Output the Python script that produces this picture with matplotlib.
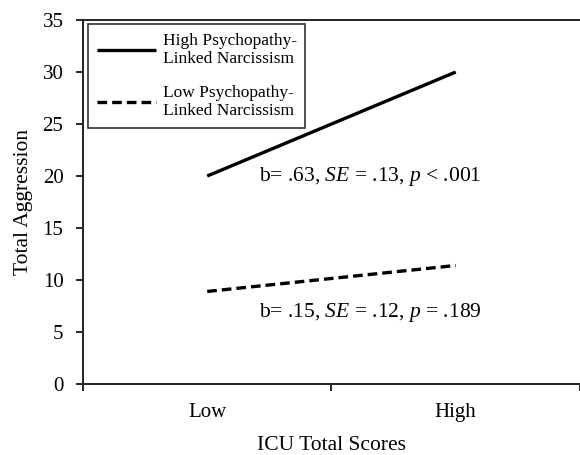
import matplotlib
matplotlib.use("Agg")
import matplotlib.pyplot as plt

categories = ["Low", "High"]
high_psych = [20.0, 30.0]
low_psych = [8.9, 11.4]
series_labels = ["High Psychopathy-\nLinked Narcissism", "Low Psychopathy-\nLinked Narcissism"]
annotations = ["b= .63, $\\it{SE}$ = .13, $\\it{p}$ < .001", "b= .15, $\\it{SE}$ = .12, $\\it{p}$ = .189"]
yticks = [0, 5, 10, 15, 20, 25, 30, 35]

plt.rcParams['font.family'] = ['Liberation Serif', 'DejaVu Serif']
plt.rcParams['mathtext.fontset'] = 'custom'
plt.rcParams['mathtext.it'] = 'Liberation Serif:italic'
plt.rcParams['mathtext.rm'] = 'Liberation Serif'

fig = plt.figure(figsize=(5.8, 4.55), dpi=100)
ax = fig.add_axes([0.143, 0.156, 0.857, 0.8])

xpos = [i + 0.5 for i in range(len(categories))]
ax.plot(xpos, high_psych, color='black', lw=2.4, solid_capstyle='butt', label=series_labels[0])
ax.plot(xpos, low_psych, color='black', lw=2.4, ls=(0, (2.9, 1.5)), dash_capstyle='butt', label=series_labels[1])

ax.set_xlim(0, 1.98)
ax.set_ylim(0, 35)
ax.set_yticks(yticks)
ax.set_xticks([0, 1, 2])
ax.set_xticklabels([])
ax.set_xticks(xpos, minor=True)
ax.set_xticklabels(categories, minor=True)
ax.tick_params(axis='x', which='minor', length=0, pad=14, labelsize=15)
ax.tick_params(axis='x', which='major', length=5, width=1.2, direction='out')
ax.tick_params(axis='y', length=5, width=1.2, direction='out', labelsize=15, pad=9)

for s in ['left', 'bottom', 'top']:
    ax.spines[s].set_linewidth(1.4)
    ax.spines[s].set_color('#222222')
ax.spines['right'].set_visible(False)

ax.set_ylabel("Total Aggression", fontsize=15.5, va='center')
ax.yaxis.set_label_coords(-0.12, 0.5)
ax.set_xlabel("ICU Total Scores", fontsize=15.5, va='center')
ax.xaxis.set_label_coords(0.5, -0.168)

ax.text(0.71, 20.0, annotations[0], fontsize=15.5, va='center', ha='left')
ax.text(0.71, 6.9, annotations[1], fontsize=15.5, va='center', ha='left')

leg = ax.legend(loc='upper left', bbox_to_anchor=(0.01, 0.988), fontsize=12.5,
                frameon=True, fancybox=False, edgecolor='black', handlelength=3.4,
                labelspacing=1.0, borderpad=0.5, handletextpad=0.4, borderaxespad=0)
leg.get_frame().set_linewidth(1.2)

fig.savefig("out.png", dpi=100)
